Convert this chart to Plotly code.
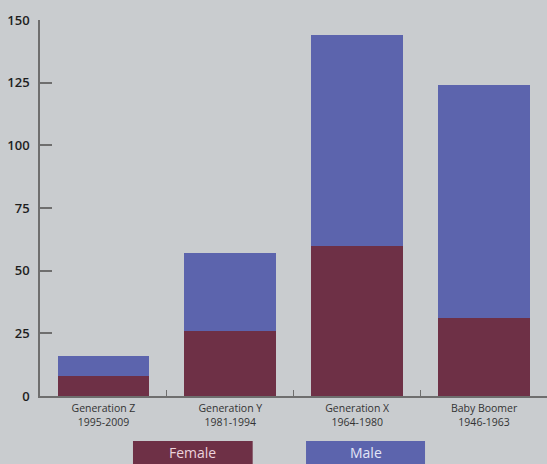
import plotly.graph_objects as go

# Survey respondents by generation, split by gender
generations = ["Generation Z", "Generation Y", "Generation X", "Baby Boomer"]
year_ranges = ["1995-2009", "1981-1994", "1964-1980", "1946-1963"]
female = [8, 26, 60, 31]
male = [8, 31, 84, 93]

FEMALE_COLOR = "#6e3046"
MALE_COLOR = "#5c64ad"
BG = "#c9cccf"
AXIS = "#6e6e6e"

categories = [f"{g}<br>{y}" for g, y in zip(generations, year_ranges)]

fig = go.Figure()
fig.add_trace(go.Bar(x=categories, y=female, name="Female", width=0.724,
                     marker=dict(color=FEMALE_COLOR, line=dict(width=0))))
fig.add_trace(go.Bar(x=categories, y=male, name="Male", width=0.724,
                     marker=dict(color=MALE_COLOR, line=dict(width=0))))

fig.update_layout(
    barmode="stack",
    width=547, height=464,
    margin=dict(l=40, r=0, t=20, b=68),
    paper_bgcolor=BG, plot_bgcolor=BG,
    showlegend=False,
    font=dict(family="Open Sans", color="#333333"),
)

fig.update_xaxes(
    type="category",
    range=[-0.5, 3.496],
    tickson="boundaries", ticks="inside", ticklen=6, tickwidth=1.2,
    tickcolor=AXIS,
    showline=True, linecolor=AXIS, linewidth=1.5,
    showgrid=False, zeroline=False,
    tickfont=dict(size=10.5, color="#333333"),
    ticklabelstandoff=2,
)
fig.update_yaxes(
    range=[0, 150],
    tickvals=[0, 25, 50, 75, 100, 125, 150],
    ticks="inside", ticklen=12, tickwidth=1.5, tickcolor=AXIS,
    showline=True, linecolor=AXIS, linewidth=1.5,
    showgrid=False, zeroline=False,
    tickfont=dict(size=13, color="#1e1e1e", weight=600),
    ticklabelstandoff=6,
)

# Legend drawn as labelled colour blocks beneath the axis labels
legend_items = [("Female", FEMALE_COLOR, "#ecd3dc", 0.1834, 0.4195),
                ("Male", MALE_COLOR, "#e3e6f7", 0.5247, 0.7594)]
for label, fill, txt, x0, x1 in legend_items:
    fig.add_shape(type="rect", xref="paper", yref="paper",
                  x0=x0, x1=x1, y0=-0.1809, y1=-0.1197,
                  fillcolor=fill, line=dict(width=0), layer="above")
    fig.add_annotation(xref="paper", yref="paper", x=(x0 + x1) / 2,
                       y=-0.1503, text=label, showarrow=False,
                       font=dict(size=14, color=txt),
                       xanchor="center", yanchor="middle")

fig.write_html("out.html")
